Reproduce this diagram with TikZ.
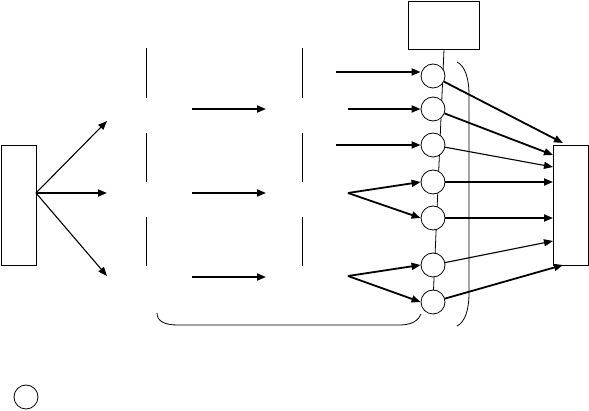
\documentclass[tikz,border=0pt]{standalone}
\usetikzlibrary{arrows.meta}
\begin{document}
\begin{tikzpicture}[x=1pt,y=-1pt,
  boxn/.style={draw,line width=0.8pt,inner sep=0pt,minimum width=#1},
  circ/.style={draw,circle,line width=0.8pt,minimum size=24pt,inner sep=0pt,fill=white},
  thk/.style={line width=1.8pt,-{Triangle[length=9pt,width=7pt]}},
  thn/.style={line width=1.1pt,-{Triangle[length=9pt,width=7pt]}},
  bar/.style={line width=0.8pt}]
\useasboundingbox (0,0) rectangle (589,411);
% boxes
\node[boxn=35pt,minimum height=120pt] (L) at (18.5,205) {};
\node[boxn=71pt,minimum height=48pt] (T) at (444,25) {};
\node[boxn=35pt,minimum height=120pt] (R) at (570.5,205) {};
% vertical spine
\draw[bar] (T.south) -- (433,302);
% circles
\foreach \i/\y in {1/76,2/109,3/145,4/182,5/218,6/265,7/302}
  \node[circ] (c\i) at (433,\y) {};
% fan from left box
\coordinate (lf) at (36,193);
\coordinate (a1) at (107,121);
\coordinate (a2) at (107,193);
\coordinate (a3) at (107,276);
\draw[thn] (lf) -- (a1);
\draw[thk] (lf) -- (a2);
\draw[thn] (lf) -- (a3);
% vertical bars
\foreach \x in {146,302}{
  \draw[bar] (\x,48) -- (\x,98);
  \draw[bar] (\x,133) -- (\x,182);
  \draw[bar] (\x,217) -- (\x,266);
}
% middle arrows
\foreach \y/\n in {109/1,193/2,277/3}{
  \coordinate (m\n s) at (192,\y);
  \coordinate (m\n e) at (266,\y);
  \draw[thk] (m\n s) -- (m\n e);
}
% incoming arrows
\coordinate (i1) at (336,72);
\coordinate (i2) at (348,109);
\coordinate (i3) at (336,145);
\coordinate (f1) at (348,193);
\coordinate (f2) at (348,276);
\draw[thk] (i1) -- (c1.west|-i1);
\draw[thk] (i2) -- (c2.west);
\draw[thk] (i3) -- (c3.west);
\draw[thk] (f1) -- (c4.west);
\draw[thk] (f1) -- (c5.west);
\draw[thk] (f2) -- (c6.west);
\draw[thk] (f2) -- (c7.west);
% outgoing arrows
\coordinate (o1) at (563,143);
\coordinate (o2) at (553,155);
\coordinate (o3) at (553,167);
\coordinate (o4) at (553,182);
\coordinate (o5) at (553,218);
\coordinate (o6) at (553,241);
\coordinate (o7) at (563,265);
\draw[thk] (c1) -- (o1);
\draw[thk] (c2) -- (o2);
\draw[thn] (c3) -- (o3);
\draw[thk] (c4.east) -- (o4);
\draw[thk] (c5.east) -- (o5);
\draw[thn] (c6) -- (o6);
\draw[thk] (c7) -- (o7);
% right parenthesis
\draw[bar] (457,62) .. controls (465,66) and (469,78) .. (469,95) -- (469,293) .. controls (469,310) and (465,322) .. (457,326);
% bottom brace
\draw[bar] (157,313) .. controls (157,322) and (166,325) .. (178,325) -- (400,325) .. controls (412,325) and (419,320) .. (421,314);
% legend circle
\node[circ] (leg) at (26,397) {};
\end{tikzpicture}
\end{document}
